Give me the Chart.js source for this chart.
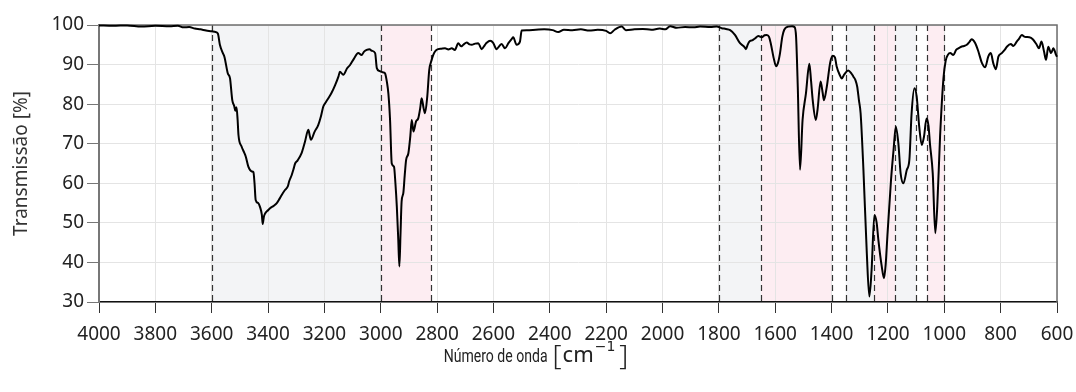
<!DOCTYPE html>
<html><head><meta charset="utf-8">
<script src="https://cdn.jsdelivr.net/npm/chart.js@4.4.1/dist/chart.umd.min.js"></script>
<style>html,body{margin:0;padding:0;background:#fff;}#wrap{width:1076px;height:392px;}</style>
</head><body><div id="wrap"><canvas id="c" width="1076" height="392"></canvas></div>
<script>
const wavenumbers = [4000,3950,3900,3850,3800,3750,3720,3700,3680,3660,3640,3620,3600,3585,3578,3571,3560,3555,3543,3535,3527,3520,3516,3512,3508,3505,3494,3485,3479,3470,3458,3452,3448,3444,3435,3429,3422,3419,3415,3411,3400,3393,3380,3369,3360,3352,3340,3330,3325,3316,3310,3304,3295,3281,3275,3269,3257,3252,3248,3235,3222,3212,3204,3195,3186,3175,3162,3150,3145,3133,3120,3109,3095,3080,3068,3060,3050,3040,3032,3020,3014,3005,3000,2990,2985,2978,2973,2967,2961,2953,2948,2943,2938,2934,2930,2926,2920,2915,2910,2902,2895,2890,2884,2875,2867,2860,2855,2848,2843,2835,2828,2820,2814,2805,2796,2785,2772,2760,2748,2737,2725,2715,2707,2695,2685,2677,2665,2654,2642,2630,2624,2612,2601,2589,2580,2571,2559,2547,2535,2530,2518,2506,2500,2482,2450,2420,2390,2370,2350,2320,2290,2260,2230,2200,2186,2170,2145,2130,2100,2070,2040,2010,1990,1973,1950,1920,1890,1867,1830,1808,1790,1775,1760,1743,1725,1710,1704,1698,1692,1680,1672,1660,1648,1638,1630,1622,1616,1605,1597,1590,1583,1575,1568,1554,1540,1532,1526,1520,1512,1503,1491,1479,1473,1467,1456,1450,1439,1432,1427,1417,1405,1396,1388,1382,1370,1364,1355,1341,1330,1323,1315,1309,1303,1297,1287,1275,1266,1258,1248,1240,1234,1222,1214,1208,1202,1189,1180,1172,1163,1155,1145,1133,1124,1116,1106,1098,1089,1080,1072,1063,1056,1051,1041,1032,1025,1015,1003,995,987,979,968,958,950,940,930,920,910,903,891,879,867,855,844,835,826,817,808,796,785,778,764,755,743,735,725,714,698,686,672,664,655,646,639,631,621,613,603,600];
const transmission = [99.9,99.8,99.9,99.6,99.8,99.7,99.8,99.4,99.5,99.1,98.9,98.6,98.4,98.2,97.8,95,92.8,92,87.8,86.5,81,79.5,78.3,79.2,76,72.2,69.3,67.8,66.7,64.2,63,62.8,60,55.8,55,54.1,52,49.7,51.5,52.3,53.2,53.7,54.3,55,56,57,58.3,59.2,60.5,62.1,63.5,65,65.8,67.6,69,70.5,73.5,72,71,73,74.7,77,79.4,80.5,81.5,82.8,84.8,87,88.2,87.4,89,89.9,91.5,92.9,92.4,93.2,93.7,93.9,93.5,92.9,89.1,88.4,88.2,88,87.8,85.5,82.7,76,65,64.2,60,54.1,46,39,47,55.4,57.5,62,65.9,67.6,72,76,73.1,75.6,76.4,79,81.5,79,77.7,81.9,88.6,91,92.4,93.5,93.9,94,94.1,93.8,94.1,93.7,95.4,94.6,95,95.6,95.1,95,95.3,95.4,93.9,95,95.5,96,95.5,93.9,94.6,95.2,94.1,95.4,96.5,96.9,95,95.8,98.6,98.7,98.8,98.9,98.7,98.2,98.8,98.7,98.9,98.6,98.8,98.5,97.9,98.8,99.6,98.7,98.9,99,98.8,99.1,98.9,99.7,99.3,99.5,99.4,99.6,99.5,99.6,99.2,99,98.7,97.5,95.4,94.5,93.9,95,95.8,96.2,96.6,97.2,96.9,97.4,97.5,97,95.4,91.5,89.6,90.5,92.9,97,98.8,99.6,99.7,99.5,97,84.4,63.4,76,82.7,90.2,86,81,76,78.5,85.7,83,81,84.4,90.5,92.2,91.8,89.5,87.2,86.5,87.5,88.5,87.8,87,86,84.4,81,77.7,63.4,42.3,31.4,38.1,52,50,45.7,39,36,39.5,46.6,60.9,68.5,74.3,70.1,62.5,60,63.4,65.9,77.7,84,81.9,74.3,69.7,71.8,76.4,74.5,70.1,62.5,47.4,54.1,71.8,86.5,91,92.5,92.9,92.4,93.7,94.1,94.5,94.7,95,95.8,96.4,95.5,93.3,90.5,89.3,92,92.9,90.3,88.8,92,92.9,93.8,94.5,95.2,94.7,95.8,96.5,97.5,97,96.9,96.4,95,94.1,95.8,93.3,91.2,94.5,92.9,94.1,92.4,92];
const xTickValues = [4000,3800,3600,3400,3200,3000,2800,2600,2400,2200,2000,1800,1600,1400,1200,1000,800,600];
const yTickValues = [30,40,50,60,70,80,90,100];
const bandStarts = [3600,3000,1800,1650,1350,1250,1175,1060];
const bandEnds   = [3000,2820,1650,1400,1250,1175,1100,1000];
const bandKinds  = ['grey','pink','grey','pink','grey','pink','grey','pink'];
const xTitle = 'Número de onda';
const xUnit = 'cm';
const xUnitExp = '−1';
const yTitle = 'Transmissão [%]';

const bandColors = {grey:'#f3f4f6', pink:'#fdedf2'};

const bandsPlugin = {
  id:'bands',
  beforeDraw(chart){
    const {ctx, chartArea:a, scales:{x}} = chart;
    ctx.save();
    bandStarts.forEach((s,i)=>{
      const x1 = x.getPixelForValue(s), x2 = x.getPixelForValue(bandEnds[i]);
      ctx.fillStyle = bandColors[bandKinds[i]];
      ctx.fillRect(Math.min(x1,x2), a.top, Math.abs(x2-x1), a.bottom-a.top);
    });
    ctx.restore();
  },
  beforeDatasetsDraw(chart){
    const {ctx, chartArea:a, scales:{x}} = chart;
    ctx.save();
    const lines = Array.from(new Set(bandStarts.concat(bandEnds)));
    ctx.strokeStyle = '#333';
    ctx.lineWidth = 1.2;
    ctx.setLineDash([6,4]);
    lines.forEach(v=>{
      const px = Math.round(x.getPixelForValue(v))+0.5;
      ctx.beginPath(); ctx.moveTo(px, a.top); ctx.lineTo(px, a.bottom); ctx.stroke();
    });
    ctx.setLineDash([]);
    ctx.strokeStyle = '#6e6e6e';
    ctx.lineWidth = 1.5;
    ctx.beginPath();
    ctx.moveTo(a.left, a.top); ctx.lineTo(a.right, a.top); ctx.lineTo(a.right, a.bottom);
    ctx.stroke();
    ctx.restore();
  },
  afterDraw(chart){
    const ctx = chart.ctx;
    ctx.save();
    ctx.fillStyle = '#222';
    ctx.textBaseline = 'alphabetic';
    ctx.textAlign = 'left';
    const parts = [
      {t:xTitle, f:'19px Roboto', sx:0.74, dy:0, gap:5},
      {t:'[', f:'300 28px "Noto Sans"', sx:1, dy:3, gap:1},
      {t:xUnit, f:'22px "Noto Sans"', sx:1, dy:0, gap:1},
      {t:xUnitExp, f:'14px "DejaVu Sans"', sx:1, dy:-11, gap:4},
      {t:']', f:'300 28px "Noto Sans"', sx:1, dy:3, gap:0}
    ];
    let total = 0;
    parts.forEach(p=>{ ctx.font = p.f; p.w = ctx.measureText(p.t).width*p.sx; total += p.w + p.gap; });
    let cx = 536 - total/2;
    const base = 362;
    parts.forEach(p=>{
      ctx.font = p.f;
      ctx.save();
      ctx.translate(cx, base + p.dy);
      ctx.scale(p.sx, 1);
      ctx.fillText(p.t, 0, 0);
      ctx.restore();
      cx += p.w + p.gap;
    });
    ctx.restore();
  }
};

new Chart(document.getElementById('c'), {
  type:'line',
  data:{datasets:[{
    data: wavenumbers.map((w,i)=>({x:w, y:transmission[i]})),
    borderColor:'#000', borderWidth:2, pointRadius:0, fill:false,
    cubicInterpolationMode:'monotone', clip:false
  }]},
  options:{
    responsive:false, animation:false, devicePixelRatio:1,
    layout:{padding:{top:25, right:19, left:0, bottom:0}},
    plugins:{legend:{display:false}, tooltip:{enabled:false}},
    scales:{
      x:{
        type:'linear', reverse:true, min:600, max:4000,
        afterBuildTicks:s=>{ s.ticks = xTickValues.map(v=>({value:v})); },
        afterFit:s=>{ s.height = 90; s.paddingLeft = 0; s.paddingRight = 0; },
        ticks:{font:{family:'Noto Sans', size:19}, color:'#222', padding:10, maxRotation:0, autoSkip:false, callback:v=>String(v)},
        grid:{color:'#e4e4e4', tickColor:'#333', tickLength:11, lineWidth:1},
        border:{color:'#111', width:1.5}
      },
      y:{
        min:30, max:100,
        afterBuildTicks:s=>{ s.ticks = yTickValues.map(v=>({value:v})); },
        afterFit:s=>{ s.width = 99; s.paddingTop = 0; s.paddingBottom = 0; },
        ticks:{font:{family:'Noto Sans', size:19}, color:'#222', padding:3, callback:v=>String(v)},
        grid:{color:'#e4e4e4', tickColor:'#777', tickLength:12, lineWidth:1},
        border:{color:'#777', width:2},
        title:{display:true, text:yTitle, font:{family:'Noto Sans', size:19}, color:'#333', padding:{top:10, bottom:0}}
      }
    }
  },
  plugins:[bandsPlugin]
});
</script></body></html>
